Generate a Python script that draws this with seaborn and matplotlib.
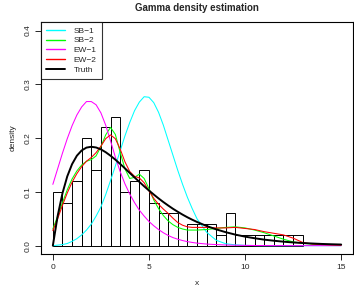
import seaborn as sns
import matplotlib.pyplot as plt

# histogram of the sample (density, bin width 0.5)
bin_edges = [0, 0.5, 1, 1.5, 2, 2.5, 3, 3.5, 4, 4.5, 5, 5.5, 6, 6.5, 7, 7.5, 8, 8.5,
             9, 9.5, 10, 10.5, 11, 11.5, 12, 12.5, 13]
bin_mids = [0.25, 0.75, 1.25, 1.75, 2.25, 2.75, 3.25, 3.75, 4.25, 4.75, 5.25, 5.75, 6.25,
            6.75, 7.25, 7.75, 8.25, 8.75, 9.25, 9.75, 10.25, 10.75, 11.25, 11.75, 12.25, 12.75]
hist_density = [0.10, 0.08, 0.12, 0.20, 0.14, 0.22, 0.24, 0.10, 0.12, 0.14, 0.08, 0.06, 0.06,
                0.00, 0.04, 0.04, 0.04, 0.02, 0.06, 0.02, 0.02, 0.02, 0.02, 0.02, 0.02, 0.02]

# density curves
x_grid = [0, 0.25, 0.5, 0.75, 1, 1.25, 1.5, 1.75, 2, 2.25, 2.5, 2.75, 3, 3.25, 3.5, 3.75,
          4, 4.25, 4.5, 4.75, 5, 5.25, 5.5, 5.75, 6, 6.25, 6.5, 6.75, 7, 7.25, 7.5,
          8, 8.5, 9, 9.5, 10, 10.5, 11, 11.5, 12, 12.5, 13, 13.5, 14, 14.5, 15]

sb1 = [0.0, 0.001, 0.002, 0.004, 0.008, 0.013, 0.020, 0.029, 0.040, 0.055, 0.072, 0.095,
       0.121, 0.148, 0.176, 0.204, 0.229, 0.251, 0.267, 0.277, 0.276, 0.266, 0.248, 0.224,
       0.196, 0.168, 0.140, 0.114, 0.090, 0.069, 0.050,
       0.025, 0.010, 0.0035, 0.0015, 0.0006, 0.0002, 0.0, 0.0, 0.0, 0.0, 0.0, 0.0, 0.0, 0.0, 0.0]

sb2 = [0.031, 0.055, 0.080, 0.104, 0.124, 0.139, 0.150, 0.157, 0.160, 0.167, 0.184, 0.206,
       0.220, 0.207, 0.174, 0.143, 0.125, 0.127, 0.133, 0.125, 0.106, 0.085, 0.069, 0.056,
       0.046, 0.039, 0.034, 0.031, 0.029, 0.029, 0.029,
       0.030, 0.032, 0.034, 0.035, 0.033, 0.029, 0.024, 0.018, 0.012, 0.007, 0.0045, 0.003,
       0.002, 0.0015, 0.001]

ew1 = [0.114, 0.143, 0.172, 0.199, 0.223, 0.243, 0.258, 0.268, 0.268, 0.262, 0.247, 0.224,
       0.195, 0.165, 0.138, 0.115, 0.096, 0.080, 0.066, 0.055, 0.045, 0.037, 0.030, 0.024,
       0.019, 0.015, 0.012, 0.0095, 0.0075, 0.006, 0.0047,
       0.003, 0.002, 0.0012, 0.0008, 0.0005, 0.0003, 0.0002, 0.0001, 0.0001, 0.0, 0.0, 0.0,
       0.0, 0.0, 0.0]

ew2 = [0.028, 0.050, 0.075, 0.098, 0.118, 0.134, 0.147, 0.157, 0.164, 0.173, 0.185, 0.199,
       0.206, 0.199, 0.180, 0.156, 0.138, 0.129, 0.126, 0.117, 0.102, 0.088, 0.077, 0.068,
       0.060, 0.051, 0.043, 0.038, 0.035, 0.034, 0.034,
       0.034, 0.033, 0.033, 0.034, 0.032, 0.030, 0.026, 0.023, 0.020, 0.014, 0.006, 0.003,
       0.002, 0.0015, 0.001]

truth = [0.0, 0.0552, 0.0974, 0.1289, 0.1516, 0.1673, 0.1771, 0.1824, 0.1839, 0.1826, 0.1791,
         0.1738, 0.1673, 0.1600, 0.1521, 0.1438, 0.1353, 0.1269, 0.1186, 0.1104, 0.1026,
         0.0951, 0.0879, 0.0811, 0.0747, 0.0686, 0.0630, 0.0577, 0.0528, 0.0483, 0.0441,
         0.0366, 0.0303, 0.0250, 0.0205, 0.0168, 0.0138, 0.0112, 0.0092, 0.0074, 0.0060,
         0.0049, 0.0040, 0.0032, 0.0026, 0.0021]

x_ticks = [0, 5, 10, 15]
y_ticks = [0.0, 0.1, 0.2, 0.3, 0.4]

curves = [('SB\u22121', sb1, '#00FFFF', 0.75),
          ('SB\u22122', sb2, '#00FF00', 0.75),
          ('EW\u22121', ew1, '#FF00FF', 0.75),
          ('EW\u22122', ew2, '#FF0000', 0.75),
          ('Truth', truth, 'black', 1.4)]

sns.set_style('ticks')
plt.rcParams['font.family'] = ['Liberation Sans', 'DejaVu Sans']

fig = plt.figure(figsize=(3.54, 2.89), dpi=100)
ax = fig.add_axes([0.1167, 0.1211, 0.8796, 0.8038])

# histogram, each bar gets its density as weight
sns.histplot(x=bin_mids, weights=hist_density, bins=bin_edges, stat='count',
             fill=False, color='black', linewidth=0.7, element='bars', ax=ax)

handles = []
for name, vals, col, lw in curves:
    sns.lineplot(x=x_grid, y=vals, color=col, linewidth=lw, ax=ax)
    handles.append(plt.Line2D([], [], color=col, linewidth=max(lw, 1.0), label=name))

ax.set_xlim(-0.6, 15.6)
ax.set_ylim(-0.0155, 0.4165)
ax.set_xticks(x_ticks)
ax.set_xticklabels([str(t) for t in x_ticks])
ax.set_yticks(y_ticks)
ax.set_yticklabels([f'{t:.1f}' for t in y_ticks], rotation=90, va='center')
ax.tick_params(labelsize=6, length=4, width=0.7, pad=3)
for side in ['left', 'right', 'top', 'bottom']:
    ax.spines[side].set_visible(True)
    ax.spines[side].set_linewidth(0.8)
    ax.spines[side].set_color('black')

ax.set_xlabel('x', fontsize=6, labelpad=7)
ax.set_ylabel('density', fontsize=6, labelpad=6)
ax.set_title('Gamma density estimation', fontsize=7, fontweight='bold', pad=8)

leg = ax.legend(handles=handles, loc='upper left', fontsize=6, frameon=True,
                fancybox=False, borderaxespad=0, handlelength=2.3, handletextpad=1.0,
                labelspacing=0.25, borderpad=0.6)
leg.get_frame().set_edgecolor('black')
leg.get_frame().set_linewidth(0.8)

fig.savefig('out.png', dpi=100)
